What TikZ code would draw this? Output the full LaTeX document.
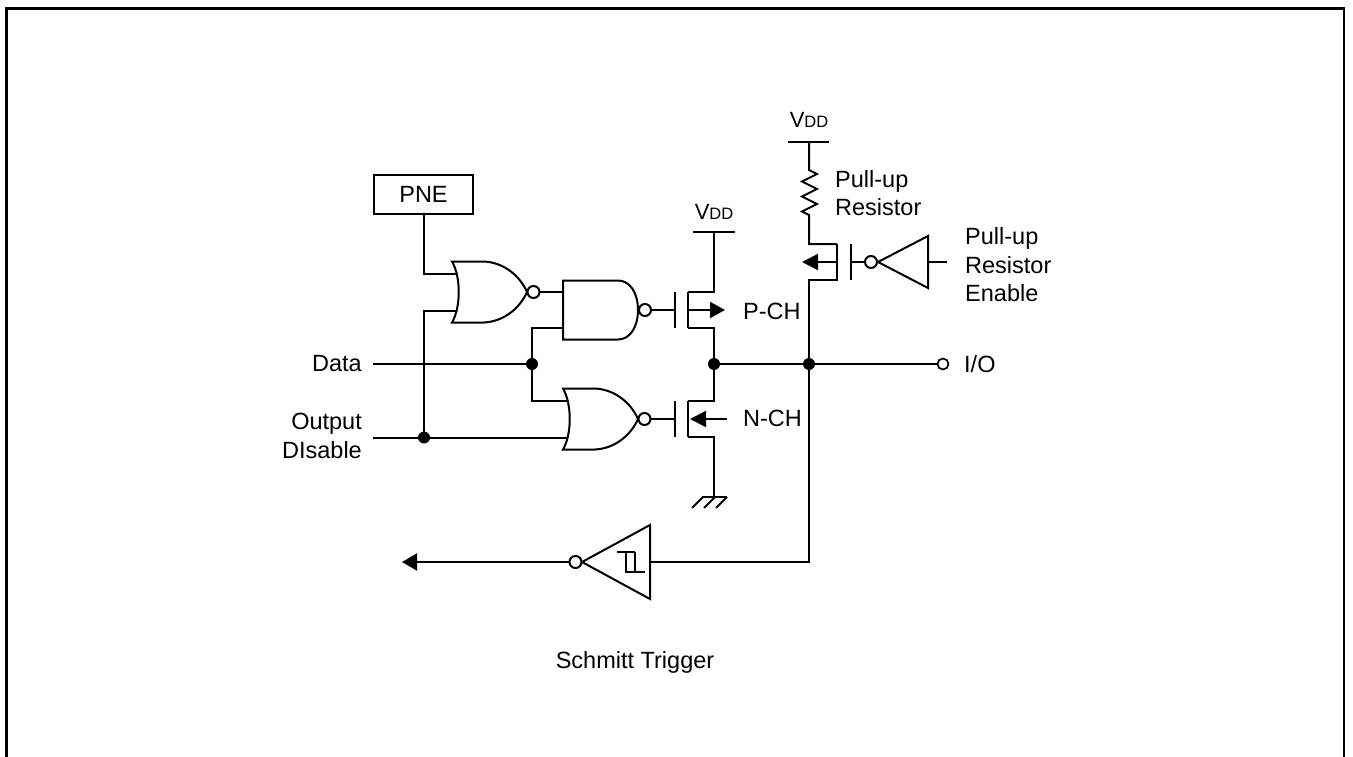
\documentclass[tikz,border=0pt]{standalone}
\usepackage{fontspec}
\setmainfont{Liberation Sans}
\usetikzlibrary{arrows.meta}
\newcommand\fs{\fontsize{23.5}{28.5}\selectfont}
\newcommand\vddtxt{{\fontsize{22}{24}\selectfont V\fontsize{16.5}{18}\selectfont DD}}
\begin{document}
\begin{tikzpicture}[x=1pt,y=-1pt,
  wire/.style={draw, line width=2pt},
  dot/.style={circle, fill, inner sep=0pt, minimum size=12pt},
  lbl/.style={font=\fs, inner sep=0pt},
  tip/.style={-{Triangle[length=15pt,width=16pt]}},
  norg/.pic={
    \draw[wire] (0,-30.5) -- (32,-30.5) .. controls (52,-29.5) and (68,-16) .. (75,0)
      .. controls (68,16) and (52,29.5) .. (32,30.5) -- (0,30.5)
      .. controls (9,15) and (9,-15) .. (0,-30.5) -- cycle;
    \draw[wire] (81.5,0) circle[radius=6];
    \coordinate (-in1) at (4.5,-18.5);
    \coordinate (-in2) at (4.5,18.5);
    \coordinate (-out) at (87.5,0);
  },
  nandg/.pic={
    \draw[wire] (0,-29.5) -- (55,-29.5) .. controls (67,-29.5) and (75,-17) .. (75,0)
      .. controls (75,17) and (67,29.5) .. (55,29.5) -- (0,29.5) -- cycle;
    \draw[wire] (82,0) circle[radius=6];
    \coordinate (-in1) at (0,-18);
    \coordinate (-in2) at (0,18);
    \coordinate (-out) at (88,0);
  }]
\useasboundingbox (0,0) rectangle (1353,757);
% frame
\draw[line width=2.6pt] (6.3,757) -- (6.3,8.3) -- (1344,8.3) -- (1344,757);

% PNE box and gates
\node[draw, line width=2pt, minimum width=99pt, minimum height=39pt, inner sep=0pt, font=\fs] (pne) at (423.5,194.5) {PNE};
\pic (g1) at (452,292) {norg};
\pic (g2) at (563,310) {nandg};
\pic (g3) at (563,419) {norg};

% inputs
\node[lbl, anchor=east] (data) at (362,364) {Data};
\node[lbl, anchor=east, align=right] (od) at (362,436) {Output\\DIsable};
\coordinate (dataL) at (373,364);
\coordinate (odL) at (373,437.5);
\node[dot] (jod) at (424,437.5) {};
\node[dot] (jd) at (532,364) {};
\draw[wire] (pne.south) |- (g1-in1);
\draw[wire] (jod.center) |- (g1-in2);
\draw[wire] (dataL) -- (jd.center);
\draw[wire] (g2-in2) -| (jd.center) |- (g3-in1);
\draw[wire] (odL) -- (g3-in2);
\draw[wire] (g1-out) -- (g2-in1);

% P-channel transistor
\coordinate (pg) at (675,310);
\coordinate (pgt) at (675,292); \coordinate (pgb) at (675,328);
\coordinate (pct) at (688,292); \coordinate (pcb) at (688,328); \coordinate (pcm) at (688,310);
\coordinate (pdt) at (714,292); \coordinate (pdb) at (714,328);
\coordinate (vdd1) at (714,232);
\coordinate (vdd1l) at (693,232); \coordinate (vdd1r) at (735,232);
\coordinate (parr) at (725,310);
\node[dot] (jpn) at (714,364) {};
\draw[wire] (g2-out) -- (pg);
\draw[wire] (pgt) -- (pgb);
\draw[wire] (pct) -- (pcb);
\draw[wire] (pct) -- (pdt) -- (vdd1);
\draw[wire] (vdd1l) -- (vdd1r);
\draw[wire] (pcb) -- (pdb) -- (jpn.center);
\draw[wire, tip] (pcm) -- (parr);
\node[inner sep=0pt, anchor=base] (vddA) at (714,219) {\vddtxt};
\node[lbl, anchor=west] (pch) at (743,311) {P-CH};

% N-channel transistor
\coordinate (ng) at (675,419);
\coordinate (ngt) at (675,401); \coordinate (ngb) at (675,437);
\coordinate (nct) at (688,401); \coordinate (ncb) at (688,437);
\coordinate (ndt) at (714,401); \coordinate (ndb) at (714,437);
\coordinate (gnd) at (714,497);
\coordinate (narrS) at (727,419); \coordinate (narrE) at (690,419);
\draw[wire] (g3-out) -- (ng);
\draw[wire] (ngt) -- (ngb);
\draw[wire] (nct) -- (ncb);
\draw[wire] (jpn.center) -- (ndt) -- (nct);
\draw[wire] (ncb) -- (ndb) -- (gnd);
\draw[wire, -{Triangle[length=16pt,width=16pt]}] (narrS) -- (narrE);
\draw[wire] (702,497) -- (727,497);
\draw[wire] (703,497) -- (692,508);
\draw[wire] (715,497) -- (704,508);
\draw[wire] (727,497) -- (716,508);
\node[lbl, anchor=west] (nch) at (743,418) {N-CH};

% output node and I/O
\node[dot] (jio) at (809,364) {};
\node[circle, draw, line width=1.7pt, minimum size=11pt, inner sep=0pt] (io) at (943,364) {};
\draw[wire] (jpn.center) -- (jio.center) -- (io.west);
\node[lbl, anchor=west] (iolbl) at (964,364) {I/O};

% pull-up resistor
\coordinate (vdd2) at (809,142);
\coordinate (vdd2l) at (788,142); \coordinate (vdd2r) at (829,142);
\coordinate (rt) at (809,170); \coordinate (rb) at (809,215);
\coordinate (put) at (809,244); \coordinate (pub) at (809,280);
\coordinate (puct) at (837,244); \coordinate (pucb) at (837,280); \coordinate (pucm) at (837,262);
\coordinate (pugt) at (851,244); \coordinate (pugb) at (851,280); \coordinate (pugm) at (851,262);
\coordinate (puarr) at (802,262);
\draw[wire] (vdd2l) -- (vdd2r);
\draw[wire] (vdd2) -- (rt) -- (817,174) -- (802,181.5) -- (817,189) -- (802,196.5) -- (817,204) -- (802,211.5) -- (rb) -- (put) -- (puct);
\draw[wire] (puct) -- (pucb) -- (pub) -- (jio.center);
\draw[wire] (pugt) -- (pugb);
\draw[wire, -{Triangle[length=16pt,width=16pt]}] (pucm) -- (puarr);
\node[inner sep=0pt, anchor=base] (vddB) at (809,128) {\vddtxt};
\node[lbl, anchor=west, align=left] (purlbl) at (835,193) {Pull-up\\Resistor};

% pull-up enable inverter
\draw[wire] (871,262) circle[radius=6];
\coordinate (invb) at (865,262);
\draw[wire] (pugm) -- (invb);
\draw[wire] (878,262) -- (928,236) -- (928,288) -- cycle;
\coordinate (invin) at (928,262); \coordinate (enL) at (947,262);
\draw[wire] (invin) -- (enL);
\node[lbl, anchor=west, align=left] (enlbl) at (965,265) {Pull-up\\Resistor\\Enable};

% Schmitt trigger
\coordinate (stc) at (809,562);
\coordinate (stin) at (650,562);
\coordinate (stout) at (569.5,562);
\coordinate (stend) at (402,562);
\draw[wire] (jio.center) -- (stc) -- (stin);
\draw[wire] (650,525) -- (650,599) -- (582,562) -- cycle;
\draw[wire] (575.5,562) circle[radius=6];
\draw[wire, -{Triangle[length=15pt,width=17pt]}] (stout) -- (stend);
\draw[line width=1.6pt] (617,552) -- (635,552);
\draw[line width=1.6pt] (626,552) -- (626,572) -- (645,572);
\draw[line width=1.6pt] (635,552) -- (635,572);
\node[lbl] (stlbl) at (635,662) {Schmitt Trigger};
\end{tikzpicture}
\end{document}
